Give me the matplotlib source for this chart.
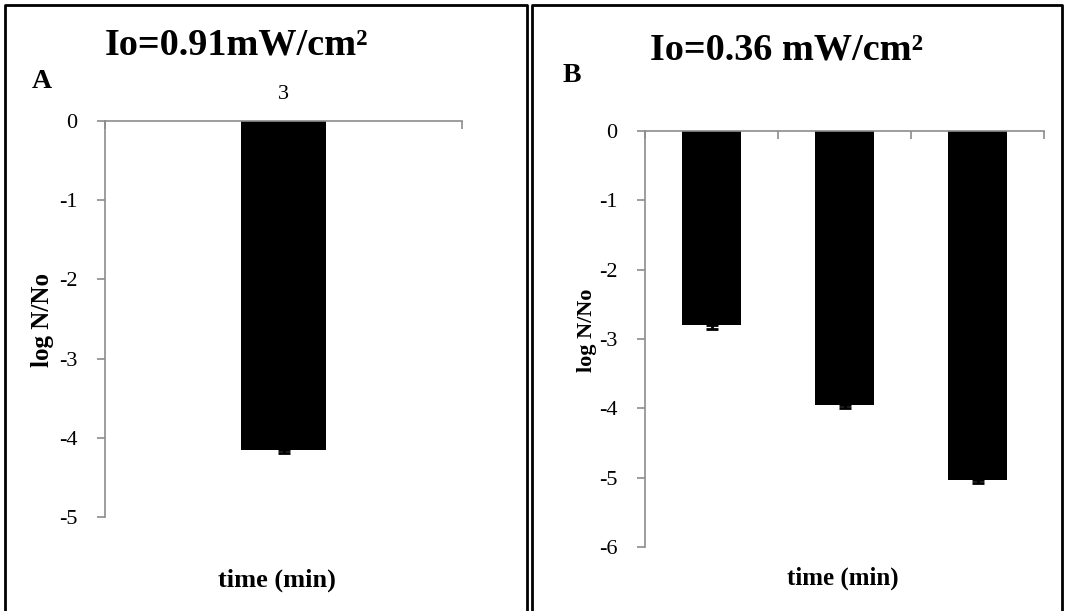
import matplotlib
matplotlib.use("Agg")
import matplotlib.pyplot as plt
from matplotlib.lines import Line2D

plt.rcParams['font.family'] = ['Liberation Serif', 'DejaVu Serif']

# panel A: Io = 0.91 mW/cm2
times_a = ['3']
logN_a = [-4.15]
err_a = [0.04]

# panel B: Io = 0.36 mW/cm2
times_b = ['', '', '']
logN_b = [-2.80, -3.95, -5.03]
err_b = [0.05, 0.04, 0.05]

W, H = 1067, 611
fig = plt.figure(figsize=(W / 100, H / 100), dpi=100)

def px_axes(left, top, right, bottom):
    return fig.add_axes([left / W, 1 - bottom / H, (right - left) / W, (bottom - top) / H])

def panel(ax, labels, vals, errs, ymin, width, show_cat):
    n = len(vals)
    x = list(range(n))
    ax.bar(x, vals, width=width, color='black', zorder=2)
    ax.errorbar(x, vals, yerr=[errs, [0] * n], fmt='none', ecolor='black',
                elinewidth=2, capsize=4, capthick=2, zorder=3)
    ax.set_xlim(-0.5, n - 0.5)
    ax.set_ylim(ymin, 0)
    ax.set_yticks(range(ymin, 1))
    ax.set_yticklabels([str(v) for v in range(ymin, 1)])
    for s in ['bottom', 'right']:
        ax.spines[s].set_visible(False)
    for s in ['top', 'left']:
        ax.spines[s].set_color('#8c8c8c')
        ax.spines[s].set_linewidth(1.2)
    ax.tick_params(axis='y', direction='out', length=6, width=1.2, color='#8c8c8c',
                   labelsize=16, pad=14)
    ax.xaxis.tick_top()
    ax.set_xticks([i - 0.5 for i in range(n + 1)], minor=True)
    ax.set_xticks(x)
    ax.set_xticklabels(labels if show_cat else [''] * n)
    ax.tick_params(axis='x', which='minor', direction='in', length=6, width=1.2,
                   color='#8c8c8c', top=True, bottom=False)
    ax.tick_params(axis='x', which='major', length=0, labelsize=16, pad=12,
                   top=True, bottom=False)

axA = px_axes(105, 121, 462, 517)
panel(axA, times_a, logN_a, err_a, -5, 0.24, True)
axB = px_axes(645, 131, 1044, 547)
panel(axB, times_b, logN_b, err_b, -6, 0.44, False)

bold = dict(fontweight='bold', color='black')
fig.text(236 / W, 1 - 45 / H, 'Io=0.91mW/cm²', ha='center', va='center', fontsize=27.5, **bold)
fig.text(42 / W, 1 - 82 / H, 'A', ha='center', va='center', fontsize=20, **bold)
fig.text(43 / W, 1 - 320 / H, 'log N/No', ha='center', va='center', rotation=90, fontsize=18, **bold)
fig.text(277 / W, 1 - 580 / H, 'time (min)', ha='center', va='center', fontsize=19, **bold)

fig.text(786 / W, 1 - 50 / H, 'Io=0.36 mW/cm²', ha='center', va='center', fontsize=27.5, **bold)
fig.text(572 / W, 1 - 75 / H, 'B', ha='center', va='center', fontsize=20, **bold)
fig.text(587 / W, 1 - 330 / H, 'log N/No', ha='center', va='center', rotation=90, fontsize=16, **bold)
fig.text(843 / W, 1 - 578 / H, 'time (min)', ha='center', va='center', fontsize=18, **bold)

# frames around the two panels (open at the bottom)
def frame(x0, x1, y0=5, lw=2):
    pts = [(x0, H), (x0, y0), (x1, y0), (x1, H)]
    xs = [p[0] / W for p in pts]
    ys = [1 - p[1] / H for p in pts]
    fig.add_artist(Line2D(xs, ys, color='black', lw=lw, transform=fig.transFigure))

frame(5, 527)
frame(532, 1062)

fig.savefig('out.png', dpi=100)
